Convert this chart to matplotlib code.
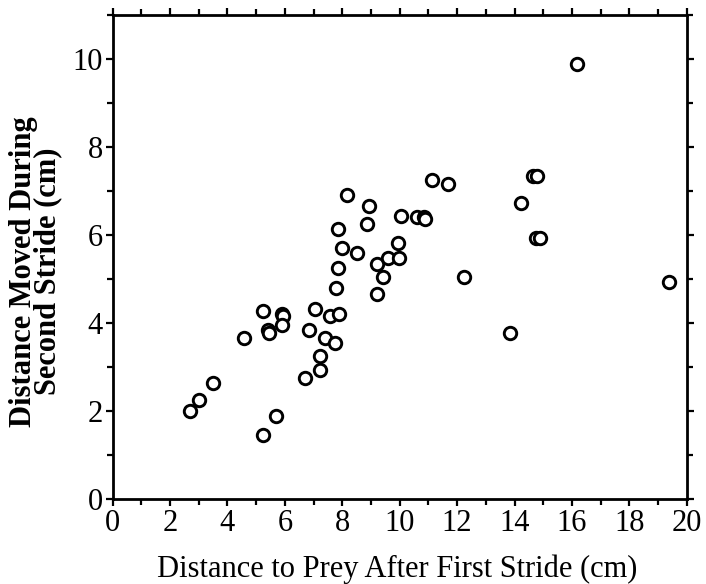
import matplotlib
matplotlib.use('Agg')
import matplotlib.pyplot as plt
from matplotlib.ticker import MultipleLocator

plt.rcParams['font.family'] = ['Liberation Serif', 'DejaVu Serif']

# distance to prey after first stride (cm)
dist_after_first = [
    2.69, 3.02, 3.48, 4.57, 5.23, 5.42, 5.45, 5.89, 5.94, 5.89,
    5.23, 5.69, 6.69, 7.22, 7.22, 6.85, 7.05, 7.41, 7.76, 7.57,
    7.87, 7.78, 7.86, 7.98, 7.86, 8.50, 8.85, 8.15, 8.94, 9.22,
    9.41, 9.22, 9.60, 9.98, 9.95, 10.03, 10.59, 10.85, 10.88, 11.12,
    11.67, 12.23, 13.84, 14.23, 14.66, 14.78, 14.76, 14.90, 16.19, 19.39,
]
# distance moved during second stride (cm)
dist_second = [
    2.01, 2.26, 2.63, 3.66, 4.27, 3.84, 3.77, 4.20, 4.15, 3.95,
    1.46, 1.88, 2.76, 2.93, 3.25, 3.85, 4.33, 3.67, 3.54, 4.15,
    4.20, 4.79, 5.25, 5.71, 6.13, 5.60, 6.26, 6.92, 6.66, 5.35,
    5.04, 4.66, 5.48, 5.48, 5.83, 6.43, 6.41, 6.41, 6.36, 7.25,
    7.17, 5.05, 3.77, 6.72, 7.35, 7.35, 5.93, 5.93, 9.89, 4.94,
]

fig = plt.figure(figsize=(7.06, 5.84), dpi=100)
ax = fig.add_axes([0.1596, 0.1455, 0.8131, 0.8285])

ax.scatter(dist_after_first, dist_second, s=80, facecolors='white',
           edgecolors='black', linewidths=2.1, zorder=3)

ax.set_xlim(0, 20)
ax.set_ylim(0, 11)
ax.xaxis.set_major_locator(MultipleLocator(2))
ax.xaxis.set_minor_locator(MultipleLocator(1))
ax.yaxis.set_major_locator(MultipleLocator(2))
ax.yaxis.set_minor_locator(MultipleLocator(1))
ax.tick_params(which='both', direction='out', top=True, right=True,
               width=1.6, color='black')
ax.tick_params(which='major', length=5, labelsize=22, pad=2)
ax.tick_params(which='minor', length=4)
for s in ax.spines.values():
    s.set_linewidth(2.0)

ax.set_xlabel('Distance to Prey After First Stride (cm)', fontsize=22)
ax.xaxis.set_label_coords(0.495, -0.115)
ax.set_ylabel('Distance Moved During\nSecond Stride (cm)', fontsize=22,
              fontweight='bold', linespacing=0.8)
ax.yaxis.set_label_coords(-0.088, 0.47)

fig.savefig('out.png', dpi=100)
